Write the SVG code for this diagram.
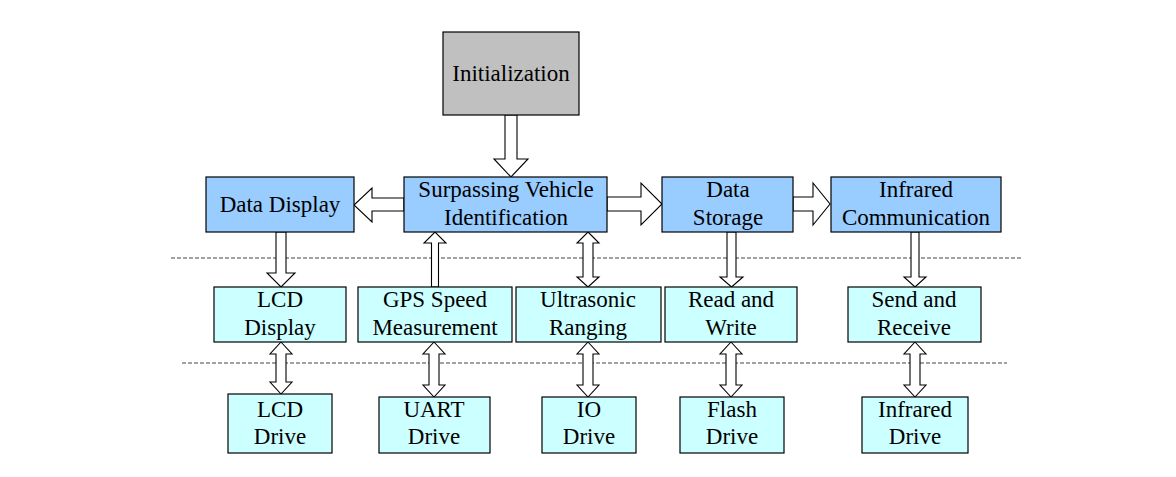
<svg xmlns="http://www.w3.org/2000/svg" width="1176" height="477" viewBox="0 0 1176 477">
<style>
.box{stroke:#000;stroke-width:1.2}
.g{fill:#C0C0C0}
.b{fill:#99CCFF}
.c{fill:#CCFFFF}
.t{font-family:"Liberation Serif","Times New Roman",serif;font-size:23px;fill:#000;text-anchor:middle}
.arr{fill:#fff;stroke:#000;stroke-width:1.1;stroke-linejoin:miter}
.dash{stroke:#444;stroke-width:1;stroke-dasharray:4 2;fill:none}
</style>
<rect width="1176" height="477" fill="#fff"/>
<g id="separators">
<line class="dash" x1="171" y1="258" x2="1023" y2="258"/>
<line class="dash" x1="182" y1="363" x2="1007" y2="363"/>
</g>
<g id="connectors">
<polygon class="arr" points="505,115 517,115 517,159 528,159 511,177 494,159 505,159"/>
<polygon class="arr" points="607,197 641,197 641,183 662,204 641,225 641,211 607,211"/>
<polygon class="arr" points="793,197 813,197 813,183 830,204 813,225 813,211 793,211"/>
<polygon class="arr" points="404,198 372,198 372,188 354,205 372,222 372,211 404,211"/>
<polygon class="arr" points="276,232 286,232 286,273 295,273 281,287 267,273 276,273"/>
<polygon class="arr" points="431.5,287 438.5,287 438.5,243 446,243 435,232 424,243 431.5,243"/>
<polygon class="arr" points="588,232 599,243 593,243 593,277 599,277 588,287 577,277 583,277 583,243 577,243"/>
<polygon class="arr" points="727,232 736,232 736,277 743,277 731.5,287 720,277 727,277"/>
<polygon class="arr" points="911,232 919,232 919,277 926,277 915,287 904,277 911,277"/>
<polygon class="arr" points="281,342 292,354 286,354 286,382 292,382 281,394 270,382 276,382 276,354 270,354"/>
<polygon class="arr" points="434,342 445,354 439,354 439,385 445,385 434,397 423,385 429,385 429,354 423,354"/>
<polygon class="arr" points="588,342 599,354 593,354 593,385 599,385 588,397 577,385 583,385 583,354 577,354"/>
<polygon class="arr" points="731,342 742,354 736,354 736,385 742,385 731,397 720,385 726,385 726,354 720,354"/>
<polygon class="arr" points="915,342 926,354 920,354 920,385 926,385 915,397 904,385 910,385 910,354 904,354"/>
</g>
<g id="initialization"><rect class="box g" x="443" y="32" width="136" height="83"/><text class="t" x="511" y="81">Initialization</text></g>
<g id="data-display"><rect class="box b" x="206" y="177" width="148" height="55"/><text class="t" x="280" y="212">Data Display</text></g>
<g id="svi"><rect class="box b" x="404" y="177" width="203" height="55"/><text class="t" x="506" y="197">Surpassing Vehicle</text><text class="t" x="506" y="225">Identification</text></g>
<g id="data-storage"><rect class="box b" x="662" y="177" width="131" height="55"/><text class="t" x="728" y="197">Data</text><text class="t" x="728" y="225">Storage</text></g>
<g id="infrared-comm"><rect class="box b" x="831" y="177" width="170" height="55"/><text class="t" x="916" y="197">Infrared</text><text class="t" x="916" y="225">Communication</text></g>
<g id="lcd-display"><rect class="box c" x="214" y="287" width="132" height="55"/><text class="t" x="280" y="307">LCD</text><text class="t" x="280" y="335">Display</text></g>
<g id="gps"><rect class="box c" x="358" y="287" width="154" height="55"/><text class="t" x="435" y="307">GPS Speed</text><text class="t" x="435" y="335">Measurement</text></g>
<g id="ultrasonic"><rect class="box c" x="516" y="287" width="145" height="55"/><text class="t" x="588" y="307">Ultrasonic</text><text class="t" x="588" y="335">Ranging</text></g>
<g id="read-write"><rect class="box c" x="665" y="287" width="132" height="55"/><text class="t" x="731" y="307">Read and</text><text class="t" x="731" y="335">Write</text></g>
<g id="send-receive"><rect class="box c" x="848" y="287" width="133" height="55"/><text class="t" x="914" y="307">Send and</text><text class="t" x="914" y="335">Receive</text></g>
<g id="lcd-drive"><rect class="box c" x="228" y="394" width="104" height="59"/><text class="t" x="280" y="417">LCD</text><text class="t" x="280" y="444">Drive</text></g>
<g id="uart-drive"><rect class="box c" x="379" y="397" width="111" height="56"/><text class="t" x="434" y="417">UART</text><text class="t" x="434" y="444">Drive</text></g>
<g id="io-drive"><rect class="box c" x="542" y="397" width="94" height="56"/><text class="t" x="589" y="417">IO</text><text class="t" x="589" y="444">Drive</text></g>
<g id="flash-drive"><rect class="box c" x="680" y="397" width="104" height="56"/><text class="t" x="732" y="417">Flash</text><text class="t" x="732" y="444">Drive</text></g>
<g id="infrared-drive"><rect class="box c" x="862" y="397" width="106" height="56"/><text class="t" x="915" y="417">Infrared</text><text class="t" x="915" y="444">Drive</text></g>
</svg>
